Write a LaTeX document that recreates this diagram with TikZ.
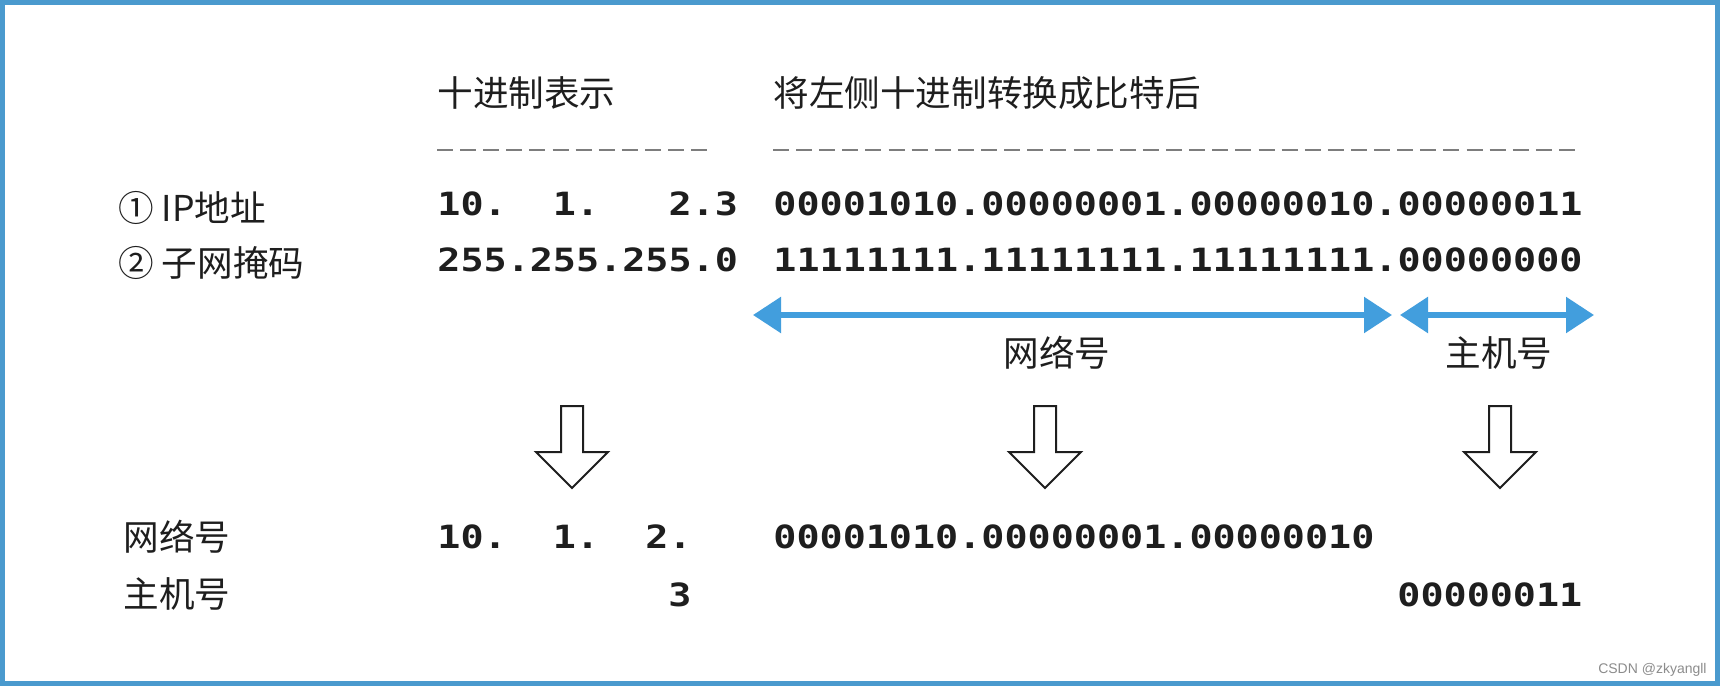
\documentclass[tikz,border=0pt]{standalone}
\usepackage{fontspec}
\newfontfamily\cjk{Noto Sans CJK SC}
\newfontfamily\mono[FakeStretch=1.2]{DejaVu Sans Mono}
\newfontfamily\wmfont{Liberation Sans}
\usetikzlibrary{arrows.meta}
\definecolor{frameblue}{RGB}{74,154,206}
\definecolor{arrowblue}{RGB}{66,158,221}
\definecolor{ink}{RGB}{30,30,30}
\definecolor{dashgrey}{RGB}{125,125,125}
\definecolor{wmgrey}{RGB}{140,140,140}
\begin{document}
\begin{tikzpicture}[x=0.5pt,y=-0.5pt,
  cjktext/.style={inner sep=0pt, anchor=west, text=ink, font=\cjk\fontsize{17.8pt}{20pt}\selectfont},
  cjkmid/.style={cjktext, anchor=center},
  monotext/.style={inner sep=0pt, anchor=west, text=ink, font=\mono\bfseries\fontsize{16pt}{18pt}\selectfont\frenchspacing},
  ruler/.style={dashgrey, line width=1.4pt, dash pattern=on 8pt off 3.56pt},
  span/.style={arrowblue, line width=2.8pt, {Triangle[length=14pt,width=17.5pt]}-{Triangle[length=14pt,width=17.5pt]}},
  hollowdown/.pic={\draw[ink, line width=1pt, line join=miter, fill=white]
     (-11,0) -- (11,0) -- (11,46) -- (36,46) -- (0,82) -- (-36,46) -- (-11,46) -- cycle;}
]
\useasboundingbox (0,0) rectangle (1720,686);
\fill[white] (0,0) rectangle (1720,686);
\draw[frameblue, line width=2.5pt] (2.5,2.5) rectangle (1717.5,683.5);

% headers
\node[cjktext] (h1) at (437,93) {十进制表示};
\node[cjktext] (h2) at (773,93) {将左侧十进制转换成比特后};

% rulers
\coordinate (r1a) at (437,150);
\coordinate (r1b) at (707.3,150);
\coordinate (r2a) at (773,150);
\coordinate (r2b) at (1575.1,150);
\draw[ruler] (r1a) -- (r1b);
\draw[ruler] (r2a) -- (r2b);

% rows 1 and 2
\node[cjktext] (l1) at (118,208) {① IP地址};
\node[cjktext] (l2) at (118,263) {② 子网掩码};
\node[monotext] (d1) at (437,204) {10.~~1.~~~2.3};
\node[monotext] (d2) at (437,260) {255.255.255.0};
\node[monotext] (b1) at (773,204) {00001010.00000001.00000010.00000011};
\node[monotext] (b2) at (773,260) {11111111.11111111.11111111.00000000};

% span arrows
\coordinate (s1a) at (753,315);
\coordinate (s1b) at (1392,315);
\coordinate (s2a) at (1400,315);
\coordinate (s2b) at (1594,315);
\draw[span] (s1a) -- (s1b);
\draw[span] (s2a) -- (s2b);
\node[cjkmid] (n1) at (1057,353) {网络号};
\node[cjkmid] (n2) at (1499,353) {主机号};

% hollow arrows
\pic at (572,406) {hollowdown};
\pic at (1045,406) {hollowdown};
\pic at (1500,406) {hollowdown};

% rows 3 and 4
\node[cjktext] (l3) at (123,537) {网络号};
\node[cjktext] (l4) at (123,594) {主机号};
\node[monotext] (d3) at (437,537) {10.~~1.~~2.};
\node[monotext] (d4) at (668,595) {3};
\node[monotext] (b3) at (773,537) {00001010.00000001.00000010};
\node[monotext] (b4) at (1397,595) {00000011};

% watermark
\node[inner sep=0pt, anchor=east, text=wmgrey, font=\wmfont\fontsize{7pt}{8pt}\selectfont] (wm) at (1707,670) {CSDN @zkyangll};
\end{tikzpicture}
\end{document}
